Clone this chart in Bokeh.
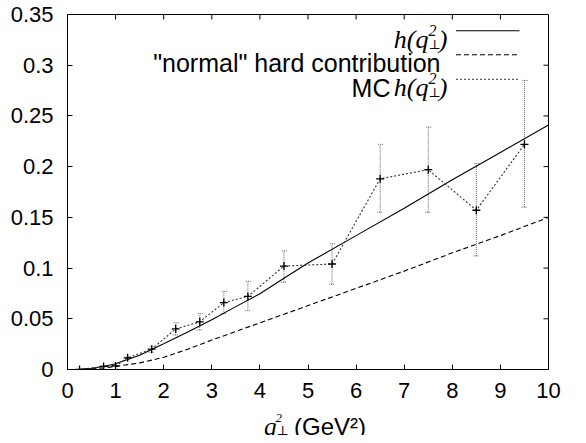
from bokeh.plotting import figure
from bokeh.layouts import column
from bokeh.models import (FixedTicker, Range1d, Label, Whisker, TeeHead,
                          ColumnDataSource)
from bokeh.embed import file_html
from bokeh.resources import INLINE

# ---------------- data ----------------
x_ticks = [0, 1, 2, 3, 4, 5, 6, 7, 8, 9, 10]
x_tick_labels = ["0", "1", "2", "3", "4", "5", "6", "7", "8", "9", "10"]
y_ticks = [0, 0.05, 0.1, 0.15, 0.2, 0.25, 0.3, 0.35]
y_tick_labels = ["0", "0.05", "0.1", "0.15", "0.2", "0.25", "0.3", "0.35"]

q_curve = [0, 0.25, 0.5, 0.75, 1, 1.5, 2, 2.5, 3, 3.5, 4, 4.5, 5, 6, 7, 8, 9, 10]
h_curve = [0, 0.0002, 0.0012, 0.003, 0.0056, 0.014, 0.0253, 0.037, 0.049,
           0.062, 0.0747, 0.090, 0.105, 0.132, 0.159, 0.187, 0.214, 0.241]
normal_curve = [0, 0, 0.0005, 0.0015, 0.003, 0.0065, 0.012, 0.020, 0.029,
                0.0375, 0.046, 0.0545, 0.063, 0.080, 0.097, 0.115, 0.132, 0.150]

mc_q = [0.25, 0.75, 1.0, 1.25, 1.75, 2.25, 2.75, 3.25, 3.75, 4.5, 5.5, 6.5, 7.5, 8.5, 9.5]
mc_h = [0.0, 0.003, 0.0035, 0.0115, 0.020, 0.040, 0.047, 0.066, 0.072, 0.102,
        0.104, 0.188, 0.197, 0.157, 0.222]
mc_lo = [0.0, 0.0025, 0.003, 0.0105, 0.017, 0.034, 0.039, 0.055, 0.058, 0.086,
         0.084, 0.155, 0.155, 0.112, 0.160]
mc_hi = [0.0, 0.0035, 0.004, 0.0125, 0.0227, 0.046, 0.055, 0.077, 0.087, 0.117,
         0.124, 0.222, 0.239, 0.203, 0.285]

legend_labels = ['"normal" hard contribution', "MC"]
x_title_unit = "(GeV²)"

# ---------------- figure ----------------
FL, FR, FT, FW, FH = 67, 22, 14, 481, 355
BOT = 37
XMAX, YMAX = 10, 0.35
p = figure(frame_width=FW, frame_height=FH,
           x_range=Range1d(0, XMAX), y_range=Range1d(0, YMAX),
           output_backend="svg", toolbar_location=None,
           min_border_left=FL, min_border_right=FR,
           min_border_top=FT, min_border_bottom=BOT)
p.xgrid.visible = False
p.ygrid.visible = False
p.outline_line_color = "black"
p.outline_line_alpha = 1
p.outline_line_width = 1
p.background_fill_color = "white"
p.border_fill_color = "white"

TICK_FONT = "Liberation Sans"
TICK_SIZE = "22px"
TICK_LEN = 5

for ax in (p.xaxis[0], p.yaxis[0]):
    ax.major_tick_in = TICK_LEN
    ax.major_tick_out = 0
    ax.minor_tick_line_color = None
    ax.axis_line_color = "black"
    ax.major_tick_line_color = "black"
    ax.major_label_text_font = TICK_FONT
    ax.major_label_text_font_size = TICK_SIZE
    ax.major_label_text_color = "black"

p.xaxis[0].ticker = FixedTicker(ticks=x_ticks)
p.xaxis[0].major_label_overrides = dict(zip(x_ticks, x_tick_labels))
p.xaxis[0].major_label_standoff = 13
p.yaxis[0].ticker = FixedTicker(ticks=y_ticks)
p.yaxis[0].major_label_overrides = dict(zip(y_ticks, y_tick_labels))
p.yaxis[0].major_label_standoff = 14

# mirrored inward ticks on top and right edges
dy_tick = TICK_LEN / FH * YMAX
dx_tick = TICK_LEN / FW * XMAX
p.segment(x0=x_ticks, y0=[YMAX] * len(x_ticks), x1=x_ticks,
          y1=[YMAX - dy_tick] * len(x_ticks), line_color="black", line_width=1)
p.segment(x0=[XMAX] * len(y_ticks), y0=y_ticks, x1=[XMAX - dx_tick] * len(y_ticks),
          y1=y_ticks, line_color="black", line_width=1)

# ---------------- glyphs ----------------
p.line(q_curve, h_curve, line_color="black", line_width=1.1)
p.line(q_curve, normal_curve, line_color="black", line_width=1.1, line_dash="5 3")
p.line(mc_q, mc_h, line_color="#333333", line_width=1.1, line_dash="2 2")

src = ColumnDataSource(dict(q=mc_q, lo=mc_lo, hi=mc_hi))
head_kw = dict(size=6, line_color="#666666", line_width=1, line_dash="1 1")
p.add_layout(Whisker(source=src, base="q", lower="lo", upper="hi",
                     line_color="#666666", line_width=1, line_dash="1 1",
                     upper_head=TeeHead(**head_kw), lower_head=TeeHead(**head_kw)))
p.scatter(mc_q, mc_h, marker="cross", size=8, line_color="black", line_width=1.3)

# ---------------- legend (layout in page pixels) ----------------
PX0, PY0 = 8 + FL, 8 + FT


def X(px):
    return (px - PX0) / FW * XMAX


def Y(py):
    return YMAX - (py - PY0) / FH * YMAX


SERIF = "Liberation Serif"
MATH_SIZE = "26px"
LEG_SIZE = "25px"
rows = [38.3, 62.3, 86.7]
dashes = [None, "5 3", "2 2"]
colors = ["black", "black", "#333333"]
for ry, d, c in zip(rows, dashes, colors):
    kw = dict(line_color=c, line_width=1.1)
    if d:
        kw["line_dash"] = d
    p.line([X(463.5), X(527)], [Y(ry), Y(ry)], **kw)


def lab(fig, x, y, text, align="left", font=SERIF, size=MATH_SIZE,
        style="italic", y_offset=0):
    fig.add_layout(Label(x=x, y=y, y_offset=y_offset, text=text,
                         text_align=align, text_baseline="alphabetic",
                         text_font=font, text_font_style=style,
                         text_font_size=size, text_color="black"))


def math_h(right_px, base_py):
    """h(q_perp^2) right-aligned ending at right_px, baseline at base_py"""
    lab(p, X(right_px), Y(base_py), ")", align="right")
    lab(p, X(right_px - 19), Y(base_py), "2", size="16px", y_offset=9)
    lab(p, X(right_px - 19), Y(base_py), "⊥", font="DejaVu Serif", size="13px",
        style="normal", y_offset=-5)
    lab(p, X(right_px - 19), Y(base_py), "h(q", align="right")
    return right_px - 19 - 35


math_h(455, rows[0] + 8.4)
lab(p, X(448), Y(rows[1] + 7.7), legend_labels[0], align="right",
    font=TICK_FONT, size=LEG_SIZE, style="normal")
left = math_h(455, rows[2] + 8.4)
lab(p, X(left - 3), Y(rows[2] + 8.4), legend_labels[1], align="right",
    font=TICK_FONT, size=LEG_SIZE, style="normal")

# ---------------- x-axis title strip (own canvas, same x scale) ----------------
strip_top = 8 + FT + FH + BOT
H2 = 443 - strip_top
t = figure(frame_width=FW, frame_height=H2, x_range=p.x_range,
           y_range=Range1d(0, H2), output_backend="svg", toolbar_location=None,
           x_axis_location=None, y_axis_location=None,
           min_border_left=FL, min_border_right=FR,
           min_border_top=0, min_border_bottom=0)
t.xgrid.visible = False
t.ygrid.visible = False
t.outline_line_color = None
t.background_fill_color = "white"
t.border_fill_color = "white"


def TY(py):
    return H2 - (py - strip_top)


xb = 434
lab(t, X(271.5), TY(xb), "q", size="25px")
lab(t, X(283), TY(xb), "2", size="13px", y_offset=9)
lab(t, X(284), TY(xb), "⊥", font="DejaVu Serif", size="13px", style="normal",
    y_offset=-4)
lab(t, X(301.5), TY(xb), x_title_unit, font=TICK_FONT, size="24px",
    style="normal")

layout = column(p, t, spacing=0)
open("out.html", "w").write(file_html(layout, INLINE))
